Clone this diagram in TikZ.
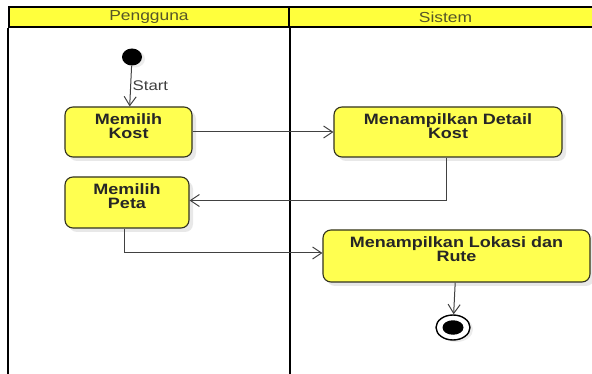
\documentclass[tikz,border=0pt]{standalone}
\usepackage{fontspec}
\setmainfont{Liberation Sans}[FakeStretch=1.2]
\usetikzlibrary{arrows.meta,shapes.geometric,shadows}
\definecolor{laneyellow}{RGB}{255,255,60}
\definecolor{boxyellow}{RGB}{255,255,80}
\definecolor{headtext}{RGB}{85,85,40}
\definecolor{flowgray}{RGB}{65,65,65}
\definecolor{boxline}{RGB}{50,50,30}

\begin{document}
\begin{tikzpicture}
    [ x=1pt, y=-1pt
    , lanehead/.style={draw=black, line width=1.6pt, fill=laneyellow, text=headtext, font=\fontsize{14.5}{16}\selectfont, minimum height=20pt, inner sep=0pt}
    , lanebody/.style={draw=black, line width=1.8pt}
    , activity/.style={draw=boxline, line width=1.1pt, fill=boxyellow, rounded corners=8pt, align=center, text=black!85, font=\fontsize{15}{13.5}\selectfont\bfseries, inner sep=0pt, drop shadow={shadow xshift=4pt, shadow yshift=-4pt, fill=black!15, opacity=0.6}}
    , flow/.style={draw=flowgray, line width=1pt, -{Straight Barb[length=9pt,width=12pt]}}
    ]
\useasboundingbox (0,0) rectangle (592,374);
\clip (0,0) rectangle (592,374);
\fill[white] (0,0) rectangle (592,374);
% swimlanes
\node[lanehead, minimum width=280pt] (hpengguna) at (149,17) {Pengguna};
\node[lanehead, minimum width=313pt] (hsistem) at (445.5,17) {Sistem};
\draw[lanebody] (hpengguna.south west) -- ++(0,360);
\draw[lanebody] (hpengguna.south east) -- ++(0,360);
\draw[lanebody] (hsistem.south east) -- ++(0,360);
% activities
\node[ellipse, fill=black, minimum width=20pt, minimum height=17pt, inner sep=0pt, drop shadow={shadow xshift=3pt, shadow yshift=-2pt, fill=black!12, opacity=0.6}] (start) at (132,57) {};
\node[activity, minimum width=127pt, minimum height=50pt, text depth=12pt] (kost) at (128.5,132) {Memilih\\Kost};
\node[activity, minimum width=124pt, minimum height=51pt, text depth=13pt] (peta) at (127,202.5) {Memilih\\Peta};
\node[activity, minimum width=228pt, minimum height=50pt, text depth=12pt] (detail) at (448,132) {Menampilkan Detail\\Kost};
\node[activity, minimum width=267pt, minimum height=52pt, text depth=14pt] (lokasi) at (456.5,256) {Menampilkan Lokasi dan\\Rute};
\node[ellipse, draw=black, line width=1.4pt, fill=white, minimum width=34pt, minimum height=25pt, inner sep=0pt, drop shadow={shadow xshift=3pt, shadow yshift=-2pt, fill=black!12, opacity=0.6}] (end) at (453,327.5) {};
\node[ellipse, fill=black, minimum width=21pt, minimum height=14.5pt, inner sep=0pt] (endcore) at (end) {};
% flows
\draw[flow] (start) -- node[right, text=black!75, font=\fontsize{14}{16}\selectfont, inner sep=1.5pt] (lblstart) {Start} (kost);
\draw[flow] (kost) -- (detail);
\draw[flow] ([xshift=-2pt]detail.south) |- ([yshift=2pt]peta.east);
\draw[flow] ([xshift=-3pt]peta.south) |- ([yshift=3pt]lokasi.west);
\draw[flow] (lokasi) -- (end);
\end{tikzpicture}
\end{document}
